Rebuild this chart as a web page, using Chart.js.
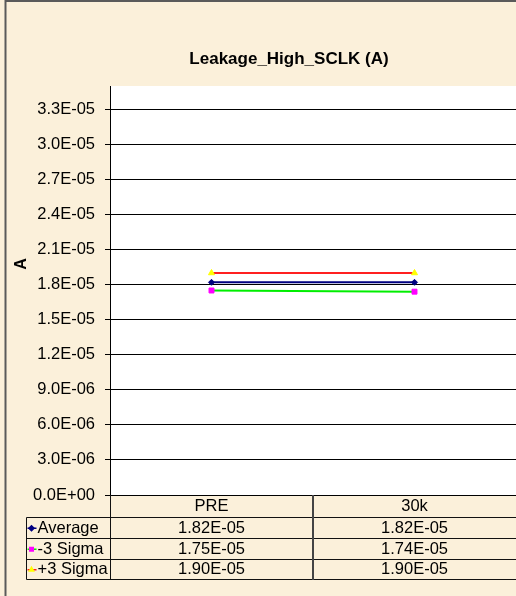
<!DOCTYPE html>
<html>
<head>
<meta charset="utf-8">
<script src="https://cdn.jsdelivr.net/npm/chart.js@4.4.1/dist/chart.umd.min.js"></script>
<style>
html, body { margin: 0; padding: 0; background: #fbf0da; }
canvas { display: block; }
</style>
</head>
<body>
<canvas id="chart" width="516" height="596"></canvas>
<script>
// data
var categories = ["PRE", "30k"];
var seriesNames = ["Average", "-3 Sigma", "+3 Sigma"];
var averageVals = [1.82e-5, 1.82e-5];
var minusSigmaVals = [1.75e-5, 1.74e-5];
var plusSigmaVals = [1.90e-5, 1.90e-5];
var yMin = 0;
var yMax = 3.5e-5;
var yStep = 3e-6;
var chartTitle = "Leakage_High_SCLK (A)";
var yTitle = "A";

var FONT = "'Liberation Sans', Arial, sans-serif";

// 1.82e-5 -> "1.82E-05"
function sci(v, d) {
  var s = Number(v).toExponential(d).toUpperCase();
  var m = s.match(/^(-?[\d.]+)E([+-])(\d+)$/);
  var e = m[3].length < 2 ? "0" + m[3] : m[3];
  return m[1] + "E" + m[2] + e;
}

var tablePlugin = {
  id: "tablePlugin",
  beforeDraw: function (chart) {
    var ctx = chart.ctx;
    var a = chart.chartArea;
    ctx.save();
    ctx.fillStyle = "#fbf0da";
    ctx.fillRect(0, 0, chart.width, chart.height);
    // outer frame
    ctx.strokeStyle = "#5a5a5a";
    ctx.lineWidth = 2;
    ctx.beginPath();
    ctx.moveTo(5.5, chart.height);
    ctx.lineTo(5.5, 1);
    ctx.lineTo(chart.width, 1);
    ctx.stroke();
    // plot area
    ctx.fillStyle = "#ffffff";
    ctx.fillRect(a.left, a.top, a.right - a.left, a.bottom - a.top);
    ctx.restore();
  },
  afterDraw: function (chart) {
    var ctx = chart.ctx;
    var a = chart.chartArea;
    var x = chart.scales.x;
    ctx.save();

    // title
    ctx.fillStyle = "#000";
    ctx.font = "bold 17px " + FONT;
    ctx.textAlign = "center";
    ctx.textBaseline = "middle";
    ctx.fillText(chartTitle, 289, 59);

    // y axis title
    ctx.save();
    ctx.translate(22, 264);
    ctx.rotate(-Math.PI / 2);
    ctx.font = "bold 16px " + FONT;
    ctx.fillText(yTitle, 0, 0);
    ctx.restore();

    // data table
    var rows = [a.bottom, a.bottom + 21.5, a.bottom + 43, a.bottom + 63.5, a.bottom + 84];
    var keyLeft = 26.5;
    var colEdges = [a.left];
    for (var i = 0; i < categories.length - 1; i++) {
      colEdges.push((x.getPixelForValue(i) + x.getPixelForValue(i + 1)) / 2);
    }
    colEdges.push(a.right);

    ctx.strokeStyle = "#111";
    ctx.lineWidth = 1;
    ctx.beginPath();
    // horizontal lines
    for (var r = 1; r < rows.length; r++) {
      var yy = Math.round(rows[r]) + 0.5;
      ctx.moveTo(keyLeft, yy);
      ctx.lineTo(chart.width, yy);
    }
    // left column lines
    ctx.moveTo(keyLeft, Math.round(rows[1]) + 0.5);
    ctx.lineTo(keyLeft, Math.round(rows[4]) + 0.5);
    ctx.moveTo(Math.round(a.left) + 0.5, a.bottom);
    ctx.lineTo(Math.round(a.left) + 0.5, Math.round(rows[4]) + 0.5);
    ctx.stroke();

    ctx.strokeStyle = "#444";
    ctx.lineWidth = 2;
    ctx.beginPath();
    for (var c = 1; c < colEdges.length - 1; c++) {
      ctx.moveTo(Math.round(colEdges[c]), a.bottom);
      ctx.lineTo(Math.round(colEdges[c]), Math.round(rows[4]) + 1);
    }
    ctx.stroke();

    ctx.font = "16.5px " + FONT;
    ctx.fillStyle = "#000";
    ctx.textAlign = "center";
    ctx.textBaseline = "middle";
    categories.forEach(function (cat, i) {
      ctx.fillText(cat, x.getPixelForValue(i), (rows[0] + rows[1]) / 2 + 1);
    });

    chart.data.datasets.forEach(function (ds, r) {
      var cy = (rows[r + 1] + rows[r + 2]) / 2 + 1;
      // legend key
      ctx.strokeStyle = ds.borderColor;
      ctx.lineWidth = 1.5;
      ctx.beginPath();
      ctx.moveTo(keyLeft + 1, cy);
      ctx.lineTo(keyLeft + 10, cy);
      ctx.stroke();
      ctx.fillStyle = ds.pointBackgroundColor;
      ctx.strokeStyle = ds.pointBorderColor;
      Chart.helpers.drawPoint(ctx, {
        pointStyle: ds.pointStyle,
        radius: 2.5,
        borderWidth: 1,
        rotation: 0
      }, keyLeft + 5, cy);
      // label and values
      ctx.fillStyle = "#000";
      ctx.textAlign = "left";
      ctx.fillText(seriesNames[r], keyLeft + 11, cy);
      ctx.textAlign = "center";
      ds.data.forEach(function (v, i) {
        ctx.fillText(sci(v, 2), x.getPixelForValue(i), cy);
      });
    });
    ctx.restore();
  }
};

new Chart(document.getElementById("chart"), {
  type: "line",
  data: {
    labels: categories,
    datasets: [
      {
        label: seriesNames[0],
        data: averageVals,
        borderColor: "#000080",
        borderWidth: 2,
        pointStyle: "rectRot",
        pointRadius: 3,
        pointBackgroundColor: "#000080",
        pointBorderColor: "#000080",
        pointBorderWidth: 1
      },
      {
        label: seriesNames[1],
        data: minusSigmaVals,
        borderColor: "#00ee00",
        borderWidth: 2,
        pointStyle: "rect",
        pointRadius: 3.5,
        pointBackgroundColor: "#ff00ff",
        pointBorderColor: "#ff00ff",
        pointBorderWidth: 1
      },
      {
        label: seriesNames[2],
        data: plusSigmaVals,
        borderColor: "#ff2020",
        borderWidth: 2,
        pointStyle: "triangle",
        pointRadius: 3.5,
        pointBackgroundColor: "#ffff00",
        pointBorderColor: "#ffff00",
        pointBorderWidth: 1
      }
    ]
  },
  options: {
    responsive: false,
    animation: false,
    layout: { autoPadding: false, padding: { left: 0, top: 86, right: -2, bottom: 101 } },
    plugins: {
      legend: { display: false },
      tooltip: { enabled: false },
      title: { display: false }
    },
    scales: {
      x: {
        type: "category",
        display: false,
        offset: true
      },
      y: {
        min: yMin,
        max: yMax,
        afterFit: function (s) { s.width = 110; },
        ticks: {
          stepSize: yStep,
          includeBounds: false,
          color: "#000",
          padding: 10,
          font: { family: FONT, size: 16.5 },
          callback: function (v) { return sci(v, 1); }
        },
        grid: { color: "#000", lineWidth: 1, tickLength: 5, drawTicks: true },
        border: { display: true, color: "#000", width: 1 }
      }
    }
  },
  plugins: [tablePlugin]
});
</script>
</body>
</html>
